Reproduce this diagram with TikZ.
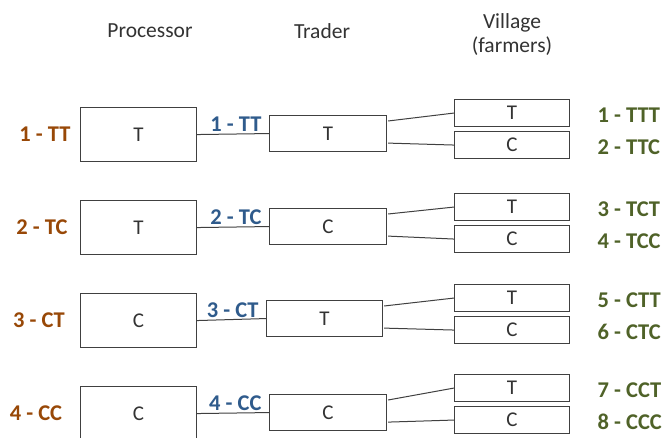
\documentclass[tikz,border=0pt]{standalone}
\usepackage{fontspec}
\setmainfont{Carlito}
\usetikzlibrary{calc}
\definecolor{procbrown}{HTML}{984807}
\definecolor{tradeblue}{HTML}{2F5B8C}
\definecolor{villgreen}{HTML}{4F6228}
\definecolor{boxgray}{HTML}{404040}
\begin{document}
\begin{tikzpicture}[x=1pt,y=-1pt,
  box/.style={draw=boxgray,line width=1.1pt,inner sep=0pt,anchor=north west},
  link/.style={draw=boxgray,line width=1pt},
  head/.style={font=\fontsize{21.5}{24}\selectfont,text=black!80,align=center},
  boxtext/.style={font=\fontsize{21}{24}\selectfont,text=black!80},
  plab/.style={font=\bfseries\fontsize{22.5}{25}\selectfont,text=procbrown},
  tlab/.style={font=\bfseries\fontsize{22.5}{25}\selectfont,text=tradeblue,anchor=base east},
  vlab/.style={font=\bfseries\fontsize{22.5}{25}\selectfont,text=villgreen,anchor=west}]
\useasboundingbox (0,0) rectangle (671,438);
\clip (0,0) rectangle (671,438);
\fill[white] (0,0) rectangle (671,438);
\node[head] (hp) at (150,31) {Processor};
\node[head] (ht) at (322,31) {Trader};
\node[head] (hv) at (512,35) {Village\\(farmers)};
\foreach \i/\pt/\tt/\tl/\tr/\vt/\pv/\tv/\plx/\pl/\tlb/\va/\vb in {
  1/107/115/269/386/99/T/T/45/1 - TT/1 - TT/1 - TTT/2 - TTC,
  2/200/208/269/386/193/T/C/42/2 - TC/2 - TC/3 - TCT/4 - TCC,
  3/293/300/266/382/284/C/T/39/3 - CT/3 - CT/5 - CTT/6 - CTC,
  4/386/394/269/386/374/C/C/36/4 - CC/4 - CC/7 - CCT/8 - CCC}{
  \node[box,minimum width=116pt,minimum height=54pt] (p\i) at (80,\pt) {};
  \node[boxtext] (pt\i) at (p\i.center) {\pv};
  \pgfmathsetmacro{\tw}{\tr-\tl}
  \node[box,minimum width=\tw pt,minimum height=36pt] (t\i) at (\tl,\tt) {};
  \node[boxtext] (tt\i) at (t\i.center) {\tv};
  \node[box,minimum width=115pt,minimum height=27pt] (va\i) at (454,\vt) {};
  \node[boxtext] (vat\i) at (va\i.center) {T};
  \pgfmathsetmacro{\vtc}{\vt+32}
  \node[box,minimum width=115pt,minimum height=27pt] (vb\i) at (454,\vtc) {};
  \node[boxtext] (vbt\i) at (vb\i.center) {C};
  \draw[link] (p\i.east) -- (t\i.west);
  \coordinate (tu\i) at ([xshift=1pt,yshift=-6pt]t\i.north east);
  \coordinate (td\i) at ([xshift=1pt,yshift=9pt]t\i.south east);
  \draw[link] (tu\i) -- (va\i.west);
  \draw[link] (td\i) -- (vb\i.west);
  \pgfmathsetmacro{\pc}{\pt+27}
  \node[plab] (pl\i) at (\plx,\pc) {\pl};
  \node[tlab] (tl\i) at ([xshift=-4pt,yshift=3pt]p\i.east -| t\i.west) {\tlb};
  \node[vlab] (vl\i) at ([xshift=24pt,yshift=-2pt]va\i.east) {\va};
  \node[vlab] (vm\i) at ([xshift=24pt,yshift=-2pt]vb\i.east) {\vb};
}
\end{tikzpicture}
\end{document}
